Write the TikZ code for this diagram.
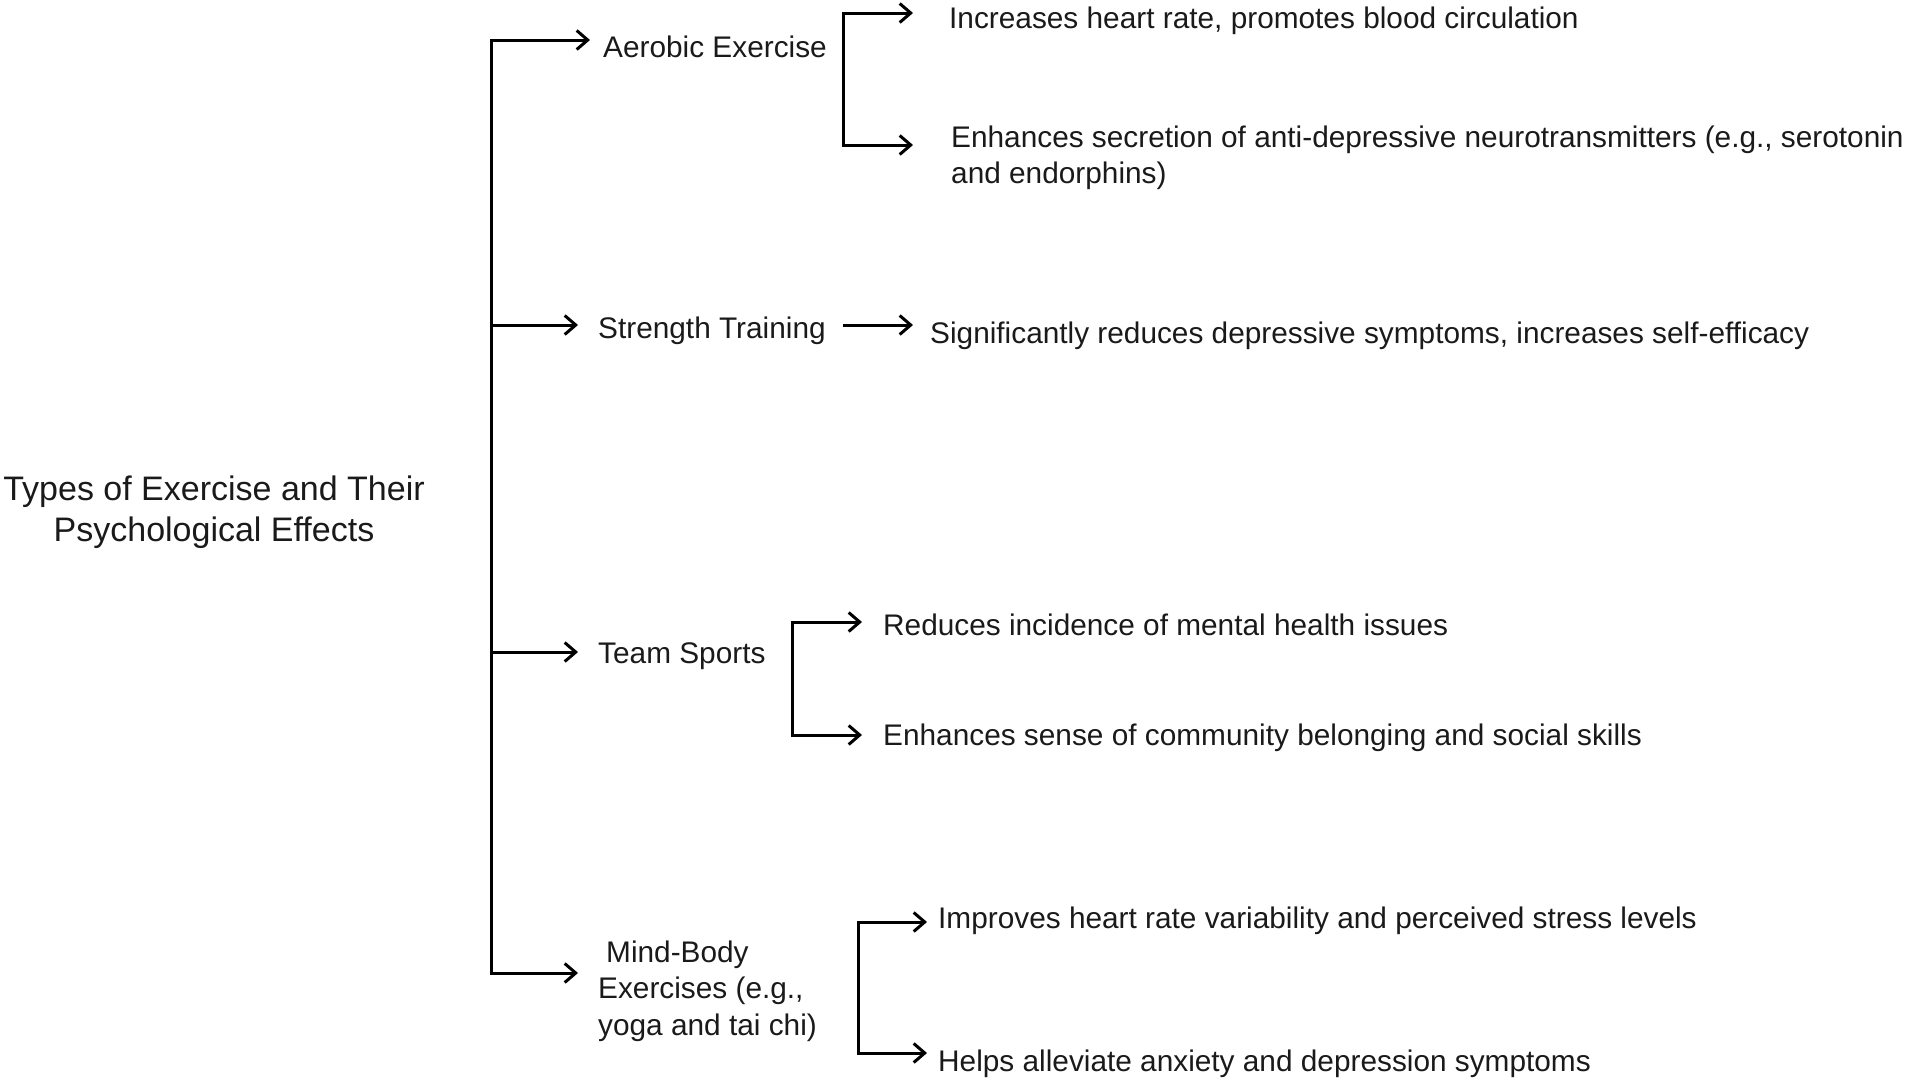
\documentclass[tikz,border=0pt]{standalone}
\usepackage{fontspec}
\setmainfont{Liberation Sans}
\usetikzlibrary{arrows.meta}
\definecolor{txt}{HTML}{1A1A1A}
\begin{document}
\begin{tikzpicture}[x=1pt,y=-1pt,
  lbl/.style={inner sep=0pt, anchor=base west, text=txt, font=\fontsize{29.8}{36.5}\selectfont, align=left},
  ttl/.style={inner sep=0pt, anchor=base, text=txt, font=\fontsize{34}{41}\selectfont, align=center},
  ln/.style={line width=3pt, line join=miter, draw=black},
  tipline/.style={ln, -{Straight Barb[length=11pt,width=19pt]}},
  tiptwo/.style={ln, {Straight Barb[length=11pt,width=19pt]}-{Straight Barb[length=11pt,width=19pt]}}]
\useasboundingbox (0,0) rectangle (1907,1080);

% title (base anchor = last line)
\node[ttl] (title) at (214,541) {Types of Exercise and Their\\Psychological Effects};

% level 1
\node[lbl] (aer) at (603,57) {Aerobic Exercise};
\node[lbl] (str) at (598,338) {Strength Training};
\node[lbl] (team) at (598,663) {Team Sports};
\node[lbl] (mb) at (598,1035) {\hspace*{8pt}Mind-Body\\Exercises (e.g.,\\yoga and tai chi)};

% level 2
\node[lbl] (inc) at (949,28) {Increases heart rate, promotes blood circulation};
\node[lbl] (sec) at (951,183.5) {Enhances secretion of anti-depressive neurotransmitters (e.g., serotonin\\and endorphins)};
\node[lbl] (sig) at (930,343) {Significantly reduces depressive symptoms, increases self-efficacy};
\node[lbl] (red) at (883,635) {Reduces incidence of mental health issues};
\node[lbl] (com) at (883,745) {Enhances sense of community belonging and social skills};
\node[lbl] (imp) at (938,928) {Improves heart rate variability and perceived stress levels};
\node[lbl] (hel) at (938,1071) {Helps alleviate anxiety and depression symptoms};

% trunk
\coordinate (tt) at (491,40);
\coordinate (tb) at (491,973);
\coordinate (ts) at (491,325);
\coordinate (tm) at (491,652);
\draw[tiptwo, shorten <=13pt, shorten >=20pt] (aer.west |- tt) -- (tt) -- (tb) -- (mb.west |- tb);
\draw[tipline, shorten >=20pt] (ts) -- (str.west |- ts);
\draw[tipline, shorten >=20pt] (tm) -- (team.west |- tm);

% aerobic bracket
\coordinate (a1) at (843,13);
\coordinate (a2) at (843,145);
\draw[tiptwo, shorten <=36pt, shorten >=38pt] (inc.west |- a1) -- (a1) -- (a2) -- (sec.west |- a2);

% strength
\coordinate (s1) at (843,325);
\draw[tipline, shorten >=17pt] (s1) -- (sig.west |- s1);

% team bracket
\coordinate (b1) at (792,622);
\coordinate (b2) at (792,735);
\draw[tiptwo, shorten <=21pt, shorten >=21pt] (red.west |- b1) -- (b1) -- (b2) -- (com.west |- b2);

% mind-body bracket
\coordinate (c1) at (858,922);
\coordinate (c2) at (858,1053);
\draw[tiptwo, shorten <=11pt, shorten >=11pt] (imp.west |- c1) -- (c1) -- (c2) -- (hel.west |- c2);
\end{tikzpicture}
\end{document}
